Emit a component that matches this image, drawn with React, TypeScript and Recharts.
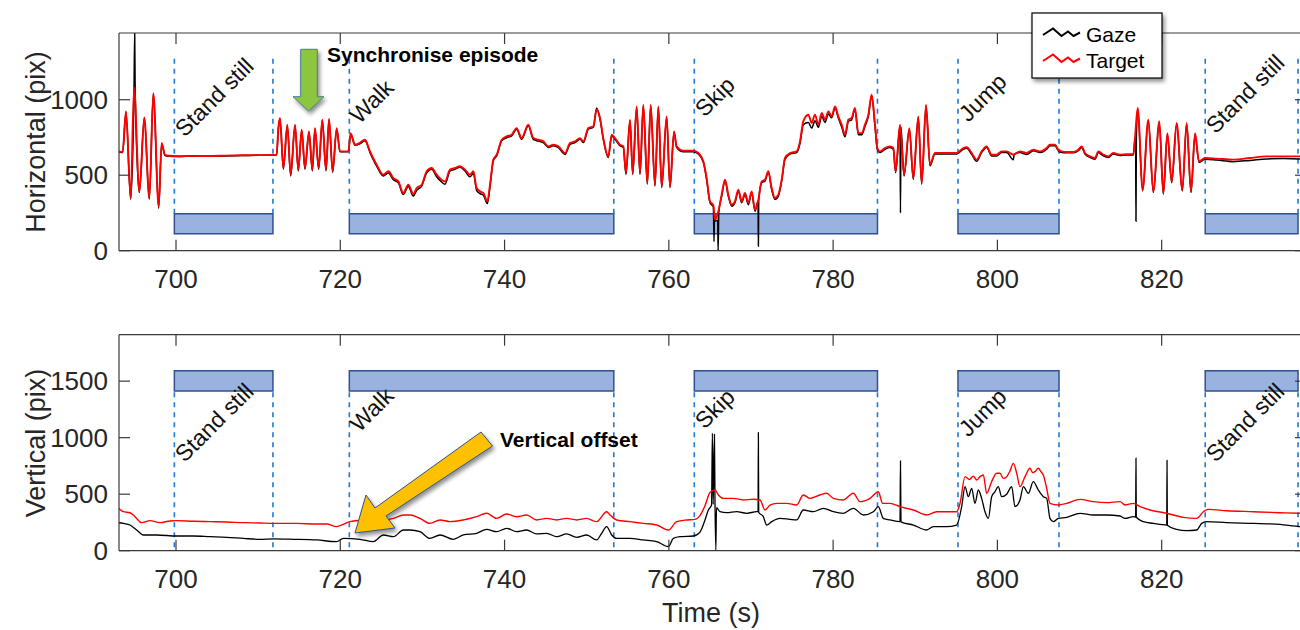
import React from 'react';
import { ComposedChart, Line, XAxis, YAxis, ReferenceArea, ReferenceLine, ReferenceDot } from 'recharts';

const FONT = '"Liberation Sans", Arial, Helvetica, sans-serif';

const timeTicks = [700, 720, 740, 760, 780, 800, 820];
const horizTicks = [0, 500, 1000];
const vertTicks = [0, 500, 1000, 1500];
const timeDomain: [number, number] = [693.06, 837.57];
const horizDomain: [number, number] = [0, 1442];
const vertDomain: [number, number] = [0, 1911];

const episodeNames = ['Stand still', 'Walk', 'Skip', 'Jump', 'Stand still'];
const episodeStart = [699.8, 721.1, 763.1, 795.2, 825.3];
const episodeEnd = [711.8, 753.3, 785.4, 807.5, 836.6];
// label anchor heights (data units) for the rotated episode names
const horizLabelY = [746, 834, 879, 846, 768];
const vertLabelY = [773, 1042, 1068, 997, 773];

const horizontalTarget: [number, number][] = [
  [693.0,658],[693.5,654],[693.91,923],[694.48,349],[694.89,1082],[695.54,393],[696.14,883],[696.75,349],[697.24,1044],[697.89,294],[698.25,713],[698.66,636],[699.07,629],[700.5,626],[702,628],[704,627],[706,630],[708,632],[710,633],[712.25,636],
  [712.46,812],[712.66,879],[713.07,548],[713.55,835],[713.96,504],[714.49,835],[714.89,537],[715.3,802],[715.7,548],[716.19,790],[716.6,537],[716.92,812],[717.37,548],[717.81,868],[718.26,537],[718.63,874],[719.07,526],[719.56,812],[719.96,658],[720.98,658],
  [721.26,779],[721.79,702],[722.32,713],[723.01,735],[723.62,658],[724.43,570],[725.24,504],[725.85,526],[726.46,481],[727.07,459],[727.67,382],[728.28,437],[728.89,375],[729.3,415],[729.91,437],[730.52,526],[731.13,548],[731.73,504],[732.34,470],[732.75,459],[733.36,537],[733.97,548],[734.57,559],[735.18,537],[735.79,504],[736.2,526],[736.6,415],[737.01,393],[737.42,382],[737.9,327],[738.23,437],[738.63,603],[739.04,636],[739.65,735],[740.26,757],[740.86,768],[741.47,812],[742.08,746],[742.89,835],[743.5,746],[744.11,735],[744.72,724],[745.33,691],[745.94,702],[746.55,691],[747.36,647],[747.97,713],[748.57,724],[749.18,746],[749.59,724],[750.2,812],[750.81,824],[751.21,934],[751.62,879],[752.02,746],[752.63,625],[753.04,768],[753.44,746],[754.05,702],[754.46,691],
  [754.78,515],[755.27,868],[755.6,515],[756.08,956],[756.49,515],[756.89,967],[757.38,448],[757.79,967],[758.31,437],[758.72,956],[759.13,426],[759.73,890],[760.14,426],[760.63,790],[760.95,691],[761.76,662],[762.98,662],[763.59,647],[764.2,592],[764.6,481],[765.01,327],[765.42,300],[765.62,205],[766.03,261],[766.43,371],[766.84,470],[767.24,371],[767.65,305],[768.05,327],[768.46,404],[768.87,327],[769.27,382],[769.68,316],[770.08,393],[770.49,272],[770.9,338],[771.3,459],[771.71,470],[772.11,526],[772.52,415],[772.92,349],[773.33,371],[773.74,470],[774.14,614],[774.75,647],[775.56,658],[775.97,724],[776.37,857],[776.98,901],[777.39,846],[777.79,901],[778.2,835],[778.61,912],[779.01,868],[779.42,923],[779.82,890],[780.23,956],[780.63,890],[781.04,835],[781.45,768],[781.85,868],[782.26,879],[782.66,945],[783.07,779],[783.48,779],[783.88,835],[784.29,901],[784.69,1033],[785.1,835],[785.38,680],[785.71,658],[786.32,680],[786.92,691],[787.33,680],
  [787.61,526],[788.14,835],[788.63,504],[789.28,812],[789.76,481],[790.37,890],[790.78,448],[791.31,967],[791.79,570],[792.4,647],[793.82,647],[795.04,647],[795.85,680],[796.26,685],[796.87,647],[797.48,603],[798.08,658],[798.69,691],[799.3,636],[799.91,636],[800.52,658],[801.13,658],[801.94,636],[802.75,658],[803.56,647],[804.37,669],[805.19,658],[806.0,680],[806.4,702],[807.01,702],[807.42,669],[807.82,658],[808.43,654],[809.24,654],[809.85,669],[810.26,691],[810.66,647],[811.27,625],[811.88,614],[812.29,658],[812.9,636],[813.51,625],[814.11,647],[814.93,636],[815.74,640],[816.55,640],
  [816.75,746],[817.08,945],[817.68,404],[818.37,868],[818.98,393],[819.71,857],[820.2,382],[820.69,779],[821.22,459],[821.82,846],[822.51,404],[823.04,846],[823.57,393],[824.06,779],[824.54,592],[825.27,614],[826.69,610],[828.72,603],[830.75,614],[832.78,625],[834.81,625],[836.84,625],[837.6,625],
];

const horizontalGaze: [number, number][] = [
  [693.0,655],[693.5,650],[693.91,918],[694.48,340],[694.89,1075],[694.97,1440],[695.03,1050],[695.54,385],[696.14,878],[696.75,340],[697.24,1040],[697.89,280],[698.25,705],[698.66,630],[699.07,626],[700.5,624],[702,626],[704,625],[706,628],[708,630],[710,632],[712.25,634],
  [712.46,805],[712.66,872],[713.07,540],[713.55,828],[713.96,495],[714.49,828],[714.89,528],[715.3,796],[715.7,540],[716.19,784],[716.6,528],[716.92,806],[717.37,540],[717.81,862],[718.26,528],[718.63,868],[719.07,518],[719.56,806],[719.96,655],[720.98,655],
  [721.26,772],[721.79,698],[722.32,706],[723.01,728],[723.62,650],[724.43,560],[725.24,495],[725.85,515],[726.46,470],[727.07,450],[727.67,372],[728.28,425],[728.89,362],[729.3,400],[729.91,428],[730.52,515],[731.13,540],[731.73,490],[732.34,455],[732.75,440],[733.36,528],[733.97,540],[734.57,552],[735.18,528],[735.79,490],[736.2,512],[736.6,400],[737.01,378],[737.42,368],[737.9,312],[738.23,425],[738.63,595],[739.04,628],[739.65,728],[740.26,748],[740.86,760],[741.47,805],[742.08,738],[742.89,828],[743.5,738],[744.11,726],[744.72,716],[745.33,684],[745.94,695],[746.55,682],[747.36,638],[747.97,705],[748.57,716],[749.18,738],[749.59,716],[750.2,805],[750.81,818],[751.21,945],[751.62,872],[752.02,738],[752.63,618],[753.04,760],[753.44,738],[754.05,695],[754.46,684],
  [754.78,505],[755.27,862],[755.6,505],[756.08,950],[756.49,505],[756.89,960],[757.38,440],[757.79,960],[758.31,428],[758.72,950],[759.13,418],[759.73,884],[760.14,418],[760.63,784],[760.95,684],[761.76,656],[762.98,656],[763.59,640],[764.2,585],[764.6,470],[765.01,318],[765.42,290],[765.5,60],[765.56,250],[765.62,195],[765.95,200],[766.0,0],[766.08,255],[766.43,360],[766.84,462],[767.24,362],[767.65,295],[768.05,318],[768.46,395],[768.87,318],[769.27,372],[769.68,305],[770.08,385],[770.49,262],[770.86,330],[770.9,29],[770.94,335],[771.3,450],[771.71,462],[772.11,518],[772.52,405],[772.92,340],[773.33,362],[773.74,462],[774.14,605],[774.75,640],[775.56,650],[775.97,712],[776.37,835],[776.98,850],[777.39,812],[777.79,860],[778.2,818],[778.61,890],[779.01,850],[779.42,905],[779.82,880],[780.23,945],[780.63,880],[781.04,820],[781.45,755],[781.85,855],[782.26,868],[782.66,935],[783.07,768],[783.48,768],[783.88,825],[784.29,890],[784.69,1025],[785.1,825],[785.38,672],[785.71,650],[786.32,672],[786.92,684],[787.33,672],
  [787.61,518],[788.14,828],[788.2,250],[788.26,820],[788.63,495],[789.28,805],[789.76,472],[790.37,884],[790.78,440],[791.31,960],[791.79,562],[792.4,640],[793.82,640],[795.04,640],[795.85,672],[796.26,678],[796.87,638],[797.48,592],[798.08,650],[798.69,684],[799.3,628],[799.91,628],[800.52,650],[801.13,650],[801.94,603],[802.05,640],[802.75,650],[803.56,638],[804.37,662],[805.19,650],[806.0,672],[806.4,695],[807.01,695],[807.42,662],[807.82,650],[808.43,648],[809.24,648],[809.85,662],[810.26,684],[810.66,640],[811.27,618],[811.88,606],[812.29,650],[812.9,628],[813.51,618],[814.11,640],[814.93,630],[815.74,634],[816.55,634],
  [816.75,740],[816.83,700],[816.87,195],[816.92,760],[817.08,938],[817.68,395],[818.37,862],[818.98,385],[819.71,850],[820.2,374],[820.69,772],[821.22,450],[821.82,840],[822.51,395],[823.04,840],[823.57,385],[824.06,772],[824.54,585],[825.27,605],[826.69,600],[828.72,590],[830.75,598],[832.78,608],[834.81,610],[836.84,608],[837.6,608],
];

const verticalTarget: [number, number][] = [
  [693.0,375],[693.59,345],[694.4,336],[695.01,301],[695.82,248],[696.83,266],[698.05,248],[699.27,263],[700.08,266],[702.11,260],[704.14,257],[706.17,254],[708.2,248],[710.23,245],[711.85,242],[714.69,242],[717.12,236],[718.34,236],[719.56,213],[720.37,233],[721.18,257],[722.81,272],[724.02,286],[725.24,272],[726.46,286],[727.68,316],
  [728.49,316],[729.7,286],[730.92,242],[732.14,272],[733.36,257],[734.98,272],[736.6,301],[737.82,331],[739.04,286],[740.26,325],[741.47,301],[742.69,316],[743.91,272],[745.13,286],[746.34,272],[747.56,286],[748.78,272],[750.0,286],[751.21,257],[752.43,345],[752.84,316],[753.65,272],[755.27,257],[756.89,242],[758.52,227],[759.94,183],[760.95,257],[762.17,272],[763.18,277],
  [763.79,310],[764.4,398],[765.01,515],[765.62,537],[766.03,493],[766.63,463],[767.85,463],[769.07,449],[770.29,455],[771.1,449],[771.71,360],[772.32,404],[773.13,419],[774.34,419],[775.56,404],[776.37,493],[777.19,463],[778.4,493],[779.21,508],[780.03,463],[781.24,449],[782.46,508],[783.27,434],[784.49,463],[785.5,522],[786.03,419],[786.92,419],[788.14,390],[789.77,360],[791.39,316],[792.61,345],[793.82,345],[795.04,345],
  [795.45,419],[796.06,655],[796.6,630],[797.07,660],[797.5,625],[797.88,655],[798.29,670],[798.69,508],[799.3,611],[799.91,685],[800.32,685],[800.7,640],[801.13,655],[801.5,700],[801.94,773],[802.35,685],[802.75,567],[803.36,655],[803.97,729],[804.3,690],[804.58,699],[804.98,729],[805.3,700],[805.59,670],[806.0,552],[806.4,419],
  [807.42,404],[808.43,419],[810.06,454],[811.68,434],[813.3,425],[814.93,434],[815.53,404],[816.55,419],[817.36,390],[818.58,360],[820.61,331],[822.64,295],[824.26,286],[825.07,345],[825.68,366],[827.91,354],[831.16,345],[834.4,336],[836.84,331],[837.6,330],
];

const verticalGaze: [number, number][] = [
  [693.0,248],[693.59,242],[694.4,227],[695.21,183],[696.02,139],[697.65,139],[700.08,130],[702.11,130],[704.14,124],[706.17,118],[708.2,109],[710.23,101],[711.85,104],[714.28,101],[717.12,95],[719.56,80],[720.37,109],[722.4,101],[724.02,80],[725.24,139],[726.46,124],[727.68,183],
  [728.49,183],[729.7,168],[730.92,109],[732.14,139],[733.76,101],[734.98,139],[736.6,154],[737.82,189],[739.04,168],[740.26,198],[741.47,168],[742.69,183],[743.91,148],[745.13,154],[746.34,124],[747.56,148],[748.78,118],[750.0,139],[751.21,95],[751.82,154],[752.43,213],[753.04,139],[753.65,109],[755.27,109],[756.89,95],[758.52,80],[759.94,36],[760.55,109],[761.36,124],[762.98,130],
  [763.79,165],[764.4,272],[764.81,360],[765.2,404],[765.3,1040],[765.4,410],[765.55,1030],[765.62,420],[765.72,5],[765.8,380],[766.23,345],[767.04,336],[768.26,345],[769.48,331],[770.69,345],[770.86,345],[770.9,1045],[770.94,340],[771.5,301],[771.91,227],[772.52,257],[773.53,286],[774.75,277],[775.56,272],[776.37,360],[777.59,345],[778.81,375],[780.03,345],[781.24,331],[782.46,375],[783.68,316],[784.9,345],[785.5,390],[786.11,286],[786.92,272],[788.14,257],[788.2,794],[788.26,255],[789.77,227],[791.39,183],[792.2,213],[793.82,213],[795.04,227],
  [795.65,390],[796.06,567],[796.46,478],[796.87,552],[797.27,419],[797.68,537],[798.08,463],[798.49,345],[798.9,286],[799.3,478],[799.71,522],[800.11,567],[800.52,478],[801.13,500],[801.74,567],[802.14,390],[802.75,449],[803.16,567],[803.77,508],[804.37,611],[804.98,537],[805.59,478],[806.0,463],[806.4,286],[806.81,257],
  [807.42,286],[808.43,295],[810.06,331],[811.68,316],[813.3,316],[814.93,307],[815.53,286],[816.55,301],[816.83,298],[816.87,818],[816.91,296],[817.77,257],[818.98,242],[820.61,227],[820.65,800],[820.69,226],[821.82,189],[823.04,177],[824.26,183],[824.87,242],[825.48,257],[827.91,248],[831.16,242],[834.4,233],[836.84,213],[837.6,212],
];

const toRows = (pairs: [number, number][]) => pairs.map(([t, v]) => ({ t, v }));

const AXIS_COLOR = '#3a3a3a';
const TEXT_COLOR = '#262626';
const TICK_LEN = 11;

const BottomTick = (p: any) => (
  <g>
    <line x1={p.x} x2={p.x} y1={p.y} y2={p.y - TICK_LEN} stroke={AXIS_COLOR} strokeWidth={1.2} />
    <text x={p.x} y={p.y + 28} textAnchor="middle" dominantBaseline="central" fontSize={26} fontFamily={FONT} fill={TEXT_COLOR}>
      {p.payload.value}
    </text>
  </g>
);
const TopTick = (p: any) => (
  <line x1={p.x} x2={p.x} y1={p.y} y2={p.y + TICK_LEN} stroke={AXIS_COLOR} strokeWidth={1.2} />
);
const LeftTick = (p: any) => (
  <g>
    <line x1={p.x} x2={p.x + TICK_LEN} y1={p.y} y2={p.y} stroke={AXIS_COLOR} strokeWidth={1.2} />
    <text x={p.x - 11} y={p.y} textAnchor="end" dominantBaseline="central" fontSize={26} fontFamily={FONT} fill={TEXT_COLOR}>
      {p.payload.value}
    </text>
  </g>
);
const RightTick = (p: any) => (
  <line x1={p.x} x2={p.x - TICK_LEN} y1={p.y} y2={p.y} stroke={AXIS_COLOR} strokeWidth={1.2} />
);

const episodeLabel = (name: string) => (p: any) => (
  <text
    x={p.cx}
    y={p.cy}
    transform={`rotate(-45 ${p.cx} ${p.cy})`}
    fontSize={23}
    fontFamily={FONT}
    fill="#111"
  >
    {name}
  </text>
);

type PanelProps = {
  height: number;
  plotTop: number;
  plotBottom: number;
  domain: [number, number];
  yTicks: number[];
  target: [number, number][];
  gaze: [number, number][];
  barLow: number;
  barHigh: number;
  dashLow: number;
  dashHigh: number;
  labelY: number[];
  targetWidth: number;
  gazeWidth: number;
};

const Panel = (props: PanelProps) => {
  const W = 1320;
  const plotRight = 1306;
  return (
    <ComposedChart
      width={W}
      height={props.height}
      margin={{ top: props.plotTop - 1, right: W - plotRight - 1, bottom: props.height - props.plotBottom - 1, left: 118 }}
    >
      <XAxis
        xAxisId="b"
        dataKey="t"
        type="number"
        domain={timeDomain}
        ticks={timeTicks}
        interval={0}
        height={1}
        tickSize={0}
        tickMargin={0}
        tickLine={false}
        axisLine={{ stroke: AXIS_COLOR, strokeWidth: 1.2 }}
        tick={BottomTick}
        allowDataOverflow
      />
      <XAxis
        xAxisId="t"
        orientation="top"
        dataKey="t"
        type="number"
        domain={timeDomain}
        ticks={timeTicks}
        interval={0}
        height={1}
        tickSize={0}
        tickMargin={0}
        tickLine={false}
        axisLine={{ stroke: AXIS_COLOR, strokeWidth: 1.2 }}
        tick={TopTick}
        allowDataOverflow
      />
      <YAxis
        yAxisId="l"
        type="number"
        domain={props.domain}
        ticks={props.yTicks}
        interval={0}
        width={1}
        tickSize={0}
        tickMargin={0}
        tickLine={false}
        axisLine={{ stroke: AXIS_COLOR, strokeWidth: 1.2 }}
        tick={LeftTick}
        allowDataOverflow
      />
      <YAxis
        yAxisId="r"
        orientation="right"
        type="number"
        domain={props.domain}
        ticks={props.yTicks}
        interval={0}
        width={1}
        tickSize={0}
        tickMargin={0}
        tickLine={false}
        axisLine={{ stroke: AXIS_COLOR, strokeWidth: 1.2 }}
        tick={RightTick}
        allowDataOverflow
      />
      {episodeStart.map((s, i) => (
        <ReferenceLine
          key={`ds${i}`}
          xAxisId="b"
          yAxisId="l"
          segment={[{ x: s, y: props.dashLow }, { x: s, y: props.dashHigh }]}
          stroke="#1f7bd6"
          strokeWidth={1.6}
          strokeDasharray="5 5"
        />
      ))}
      {episodeEnd.map((s, i) => (
        <ReferenceLine
          key={`de${i}`}
          xAxisId="b"
          yAxisId="l"
          segment={[{ x: s, y: props.dashLow }, { x: s, y: props.dashHigh }]}
          stroke="#1f7bd6"
          strokeWidth={1.6}
          strokeDasharray="5 5"
        />
      ))}
      <Line
        xAxisId="b"
        yAxisId="l"
        data={toRows(props.gaze)}
        dataKey="v"
        type="monotone"
        stroke="#000000"
        strokeWidth={props.gazeWidth}
        dot={false}
        activeDot={false}
        isAnimationActive={false}
      />
      <Line
        xAxisId="b"
        yAxisId="l"
        data={toRows(props.target)}
        dataKey="v"
        type="monotone"
        stroke="#ff0000"
        strokeWidth={props.targetWidth}
        dot={false}
        activeDot={false}
        isAnimationActive={false}
      />
      {episodeStart.map((s, i) => (
        <ReferenceArea
          key={`bar${i}`}
          xAxisId="b"
          yAxisId="l"
          x1={s}
          x2={episodeEnd[i]}
          y1={props.barLow}
          y2={props.barHigh}
          fill="#8eaadb"
          fillOpacity={0.9}
          stroke="#2f528f"
          strokeWidth={1.5}
        />
      ))}
      {episodeStart.map((s, i) => (
        <ReferenceDot
          key={`lab${i}`}
          xAxisId="b"
          yAxisId="l"
          x={s + 1.25}
          y={props.labelY[i]}
          r={0}
          shape={episodeLabel(episodeNames[i])}
        />
      ))}
    </ComposedChart>
  );
};

const Overlay = () => (
  <svg width={1300} height={630} style={{ position: 'absolute', left: 0, top: 0, pointerEvents: 'none' }}>
    <defs>
      <filter id="sh" x="-30%" y="-30%" width="160%" height="160%">
        <feGaussianBlur in="SourceAlpha" stdDeviation="2" />
        <feOffset dx="2" dy="3" result="o" />
        <feComponentTransfer><feFuncA type="linear" slope="0.45" /></feComponentTransfer>
        <feMerge><feMergeNode /><feMergeNode in="SourceGraphic" /></feMerge>
      </filter>
    </defs>
    {/* axis titles */}
    <text x={0} y={0} transform="translate(36 142) rotate(-90)" textAnchor="middle" dominantBaseline="central" fontSize={27} fontFamily={FONT} fill={TEXT_COLOR}>
      Horizontal (pix)
    </text>
    <text x={0} y={0} transform="translate(36 443) rotate(-90)" textAnchor="middle" dominantBaseline="central" fontSize={27} fontFamily={FONT} fill={TEXT_COLOR}>
      Vertical (pix)
    </text>
    <text x={711} y={613} textAnchor="middle" dominantBaseline="central" fontSize={27} fontFamily={FONT} fill={TEXT_COLOR}>
      Time (s)
    </text>
    {/* legend */}
    <g filter="url(#sh)">
      <rect x={1032} y={13} width={130} height={65} fill="#fff" stroke="#000" strokeWidth={1.2} />
    </g>
    <path d="M1043,35 L1053,28.5 L1061.5,36 L1068,31.5 L1073.5,36 L1080,32.5" fill="none" stroke="#000" strokeWidth={2} />
    <path d="M1043,61 L1053,54.5 L1061.5,62 L1068,57.5 L1073.5,62 L1080,58.5" fill="none" stroke="#ff0000" strokeWidth={2} />
    <text x={1086} y={34} dominantBaseline="central" fontSize={21} fontFamily={FONT} fill="#000">Gaze</text>
    <text x={1086} y={60} dominantBaseline="central" fontSize={21} fontFamily={FONT} fill="#000">Target</text>
    {/* green arrow */}
    <g filter="url(#sh)">
      <polygon
        points="300.7,49.3 317.3,49.3 317.3,96.7 324,96.7 308.5,111 293,96.7 300.7,96.7"
        fill="#8cc63f"
        stroke="#4a7a9c"
        strokeWidth={1}
      />
    </g>
    <text x={327} y={62} fontSize={21} fontWeight="bold" fontFamily={FONT} fill="#000">Synchronise episode</text>
    {/* yellow arrow */}
    <g filter="url(#sh)">
      <polygon
        points="492.5,446 481,432 375,508 366,495 355,533 395,528 386,516"
        fill="#ffc000"
        stroke="#2f528f"
        strokeWidth={1}
      />
    </g>
    <text x={500} y={447} fontSize={21} fontWeight="bold" fontFamily={FONT} fill="#000">Vertical offset</text>
  </svg>
);

export default function App() {
  return (
    <div style={{ position: 'absolute', left: 0, top: 0, width: 1300, height: 630, overflow: 'hidden', background: '#fff' }}>
      <div style={{ position: 'absolute', left: 0, top: 0 }}>
        <Panel
          height={300}
          plotTop={33}
          plotBottom={250.7}
          domain={horizDomain}
          yTicks={horizTicks}
          target={horizontalTarget}
          gaze={horizontalGaze}
          barLow={113}
          barHigh={245}
          dashLow={245}
          dashHigh={1276}
          labelY={horizLabelY}
          targetWidth={1.9}
          gazeWidth={1.5}
        />
      </div>
      <div style={{ position: 'absolute', left: 0, top: 300 }}>
        <Panel
          height={330}
          plotTop={34.7}
          plotBottom={250.7}
          domain={vertDomain}
          yTicks={vertTicks}
          target={verticalTarget}
          gaze={verticalGaze}
          barLow={1413}
          barHigh={1593}
          dashLow={30}
          dashHigh={1413}
          labelY={vertLabelY}
          targetWidth={1.4}
          gazeWidth={1.3}
        />
      </div>
      <Overlay />
    </div>
  );
}
